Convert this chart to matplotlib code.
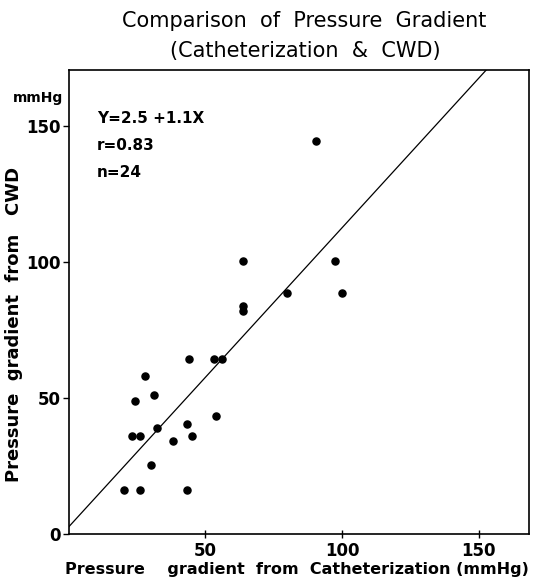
import matplotlib
matplotlib.use("Agg")
import matplotlib.pyplot as plt
import numpy as np

# catheterization gradient (x) vs CWD gradient (y), mmHg
cath = [44.0, 53.1, 56.2, 28.0, 31.2, 24.1, 54.0, 43.2, 32.3, 23.1, 26.2, 45.2,
        38.3, 30.2, 20.2, 26.1, 43.2, 63.9, 63.9, 63.9, 90.4, 97.4, 79.8, 99.9]
cwd = [64.1, 64.1, 64.1, 58.1, 51.1, 48.8, 43.2, 40.2, 39.0, 35.9, 35.9, 36.1,
       34.0, 25.3, 16.0, 16.0, 16.0, 100.3, 83.8, 82.0, 144.4, 100.4, 88.6, 88.6]
intercept, slope = 2.5, 1.1
x_ticks = [50, 100, 150]
y_ticks = [0, 50, 100, 150]

plt.rcParams['font.family'] = ['DejaVu Sans']

fig = plt.figure(figsize=(5.33, 5.82), dpi=100)
ax = fig.add_axes([0.1289, 0.083, 0.8642, 0.7967])

xmax, ymax = 168.5, 170.5
ax.scatter(cath, cwd, s=26, color="black", zorder=3)
xl = np.array([0, xmax])
ax.plot(xl, intercept + slope * xl, color="black", lw=0.9)

ax.set_xlim(0, xmax)
ax.set_ylim(0, ymax)
ax.set_xticks(x_ticks)
ax.set_yticks(y_ticks)
ax.tick_params(axis="x", direction="inout", length=6, width=1, labelsize=12, pad=3)
ax.tick_params(axis="y", direction="out", length=4, width=1, labelsize=12, pad=2)
for lab in ax.get_xticklabels() + ax.get_yticklabels():
    lab.set_fontweight("bold")
for s in ax.spines.values():
    s.set_linewidth(1.2)

# axis titles placed by hand to match the scan
fig.text(0.5575, 0.021, "Pressure    gradient  from  Catheterization (mmHg)",
         ha="center", va="center", fontsize=11.5, fontweight="bold")
fig.text(0.027, 0.442, "Pressure  gradient  from   CWD", rotation=90,
         ha="center", va="center", fontsize=13, fontweight="bold")

ax.text(-0.012, 0.94, "mmHg", transform=ax.transAxes, ha="right", va="center",
        fontsize=10, fontweight="bold")
stats = ["Y=2.5 +1.1X", "r=0.83", "n=24"]
for i, t in enumerate(stats):
    ax.text(0.061, 0.8965 - i * 0.059, t, transform=ax.transAxes, ha="left",
            va="center", fontsize=11, fontweight="bold")

fig.text(0.57, 0.964, "Comparison  of  Pressure  Gradient", ha="center",
         va="center", fontsize=15)
fig.text(0.572, 0.913, "(Catheterization  &  CWD)", ha="center", va="center",
         fontsize=15)

fig.savefig("out.png", dpi=100)
